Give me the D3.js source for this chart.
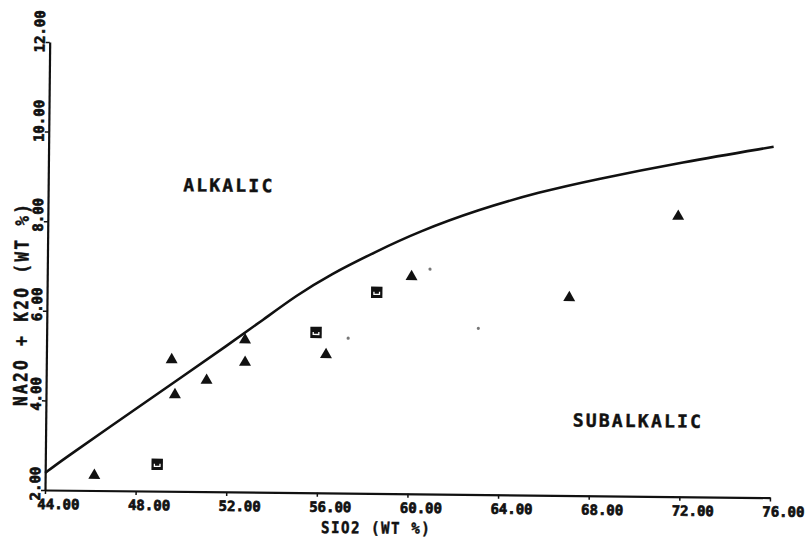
<!DOCTYPE html>
<html>
<head>
<meta charset="utf-8">
<script src="https://cdn.jsdelivr.net/npm/d3@7"></script>
<style>
  body { margin: 0; background: #fff; }
  text { font-family: "DejaVu Sans Mono", monospace; font-weight: bold; fill: #111;
         stroke: #111; stroke-width: 0.45px; }
  .tick text { stroke-width: 0.7px; }
</style>
</head>
<body>
<svg id="chart" width="810" height="540"></svg>
<script>
// Axis ticks
const xTicks = [44, 48, 52, 56, 60, 64, 68, 72, 76];
const yTicks = [2, 4, 6, 8, 10, 12];

// Samples: [SiO2, Na2O + K2O] in wt %
const triangleSamples = [
  [46.17, 2.37], [49.53, 4.97], [49.69, 4.19], [51.08, 4.52], [52.76, 5.43],
  [52.77, 4.93], [56.34, 5.12], [60.08, 6.88], [67.05, 6.45], [71.82, 8.29]
];
const squareSamples = [[48.94, 2.60], [55.89, 5.58], [58.55, 6.49]];
const minorSamples = [[57.31, 5.46], [60.89, 7.02], [63.05, 5.71]];

// Alkalic / subalkalic dividing curve
const boundarySiO2 = [44.0, 44.65, 48, 50, 52, 53.55, 55.0, 56.5, 58.5, 60.35, 63, 65.71, 68.04, 72, 76];
const boundaryAlk  = [2.38, 2.64, 3.84, 4.56, 5.28, 5.85, 6.40, 6.88, 7.40, 7.85, 8.36, 8.77, 9.05, 9.47, 9.83];

// Field labels
const fieldLabels = [
  { text: "ALKALIC", x: 49.96, y: 8.70 },
  { text: "SUBALKALIC", x: 67.26, y: 3.54 }
];

const marginLeft = 45, marginTop = 42, plotW = 725, plotH = 448;
const svg = d3.select("#chart");

// the whole plotted sheet sits very slightly skewed on the page
const sheet = svg.append("g")
  .attr("transform", `rotate(0.6 ${marginLeft} ${marginTop + plotH})`);
const g = sheet.append("g").attr("transform", `translate(${marginLeft},${marginTop})`);

const x = d3.scaleLinear().domain([44, 76]).range([0, plotW]);
const y = d3.scaleLinear().domain([2, 12]).range([plotH, 0]);
const fmt = d3.format(".2f");

// X axis
const xAxis = g.append("g")
  .attr("transform", `translate(0,${plotH})`)
  .call(d3.axisBottom(x).tickValues(xTicks).tickFormat(fmt).tickSize(4).tickSizeOuter(0));
xAxis.select(".domain").attr("stroke", "#111").attr("stroke-width", 2.2);
xAxis.selectAll(".tick line").attr("stroke", "#111").attr("stroke-width", 1.5);
xAxis.selectAll(".tick text")
  .attr("x", -8).attr("y", 19).attr("dy", 0)
  .attr("text-anchor", "start")
  .style("font-size", "14px")
  .attr("fill", "#111");

// Y axis
const yAxis = g.append("g")
  .call(d3.axisLeft(y).tickValues(yTicks).tickFormat(fmt).tickSize(4).tickSizeOuter(0));
yAxis.select(".domain").attr("stroke", "#111").attr("stroke-width", 2.2);
yAxis.selectAll(".tick line").attr("stroke", "#111").attr("stroke-width", 1.5);
yAxis.selectAll(".tick text")
  .attr("transform", "rotate(-90)")
  .attr("x", -10).attr("y", -5).attr("dy", 0)
  .attr("text-anchor", "start")
  .style("font-size", "14px")
  .attr("fill", "#111");

// Axis titles
g.append("text")
  .attr("transform", `translate(${plotW / 2 - 31},${plotH + 40}) scale(1,1.15)`)
  .attr("text-anchor", "middle")
  .style("font-size", "14px")
  .style("letter-spacing", "1.6px")
  .text("SIO2 (WT %)");

g.append("text")
  .attr("transform", `translate(-19,${plotH - 186}) rotate(-90) scale(1,1.2)`)
  .attr("text-anchor", "middle")
  .style("font-size", "16px")
  .style("letter-spacing", "2.4px")
  .text("NA2O + K2O (WT %)");

// Dividing curve
const boundary = boundarySiO2.map((s, i) => [s, boundaryAlk[i]]);
g.append("path")
  .datum(boundary)
  .attr("fill", "none")
  .attr("stroke", "#111")
  .attr("stroke-width", 2.6)
  .attr("stroke-linejoin", "round")
  .attr("d", d3.line().x(d => x(d[0])).y(d => y(d[1])).curve(d3.curveBasis));

// Field labels
g.selectAll(".field")
  .data(fieldLabels)
  .join("text")
  .attr("class", "field")
  .attr("x", d => x(d.x))
  .attr("y", d => y(d.y))
  .style("font-size", "18px")
  .style("letter-spacing", "2.2px")
  .text(d => d.text);

// Triangles
g.selectAll(".tri")
  .data(triangleSamples)
  .join("path")
  .attr("class", "tri")
  .attr("transform", d => `translate(${x(d[0])},${y(d[1]) + 1.5})`)
  .attr("d", d3.symbol(d3.symbolTriangle, 62))
  .attr("fill", "#111");

// Squares with the small open mark inside
const sq = g.selectAll(".sq")
  .data(squareSamples)
  .join("g")
  .attr("class", "sq")
  .attr("transform", d => `translate(${x(d[0])},${y(d[1])})`);
sq.append("path")
  .attr("d", d3.symbol(d3.symbolSquare, 130))
  .attr("fill", "#111");
sq.append("path")
  .attr("d", "M-2.8,-0.5 V2 H2.8 V-0.5")
  .attr("fill", "none")
  .attr("stroke", "#fff")
  .attr("stroke-width", 1.3);

// Minor dots
g.selectAll(".dot")
  .data(minorSamples)
  .join("circle")
  .attr("class", "dot")
  .attr("cx", d => x(d[0]))
  .attr("cy", d => y(d[1]))
  .attr("r", 1.6)
  .attr("fill", "#777");
</script>
</body>
</html>
